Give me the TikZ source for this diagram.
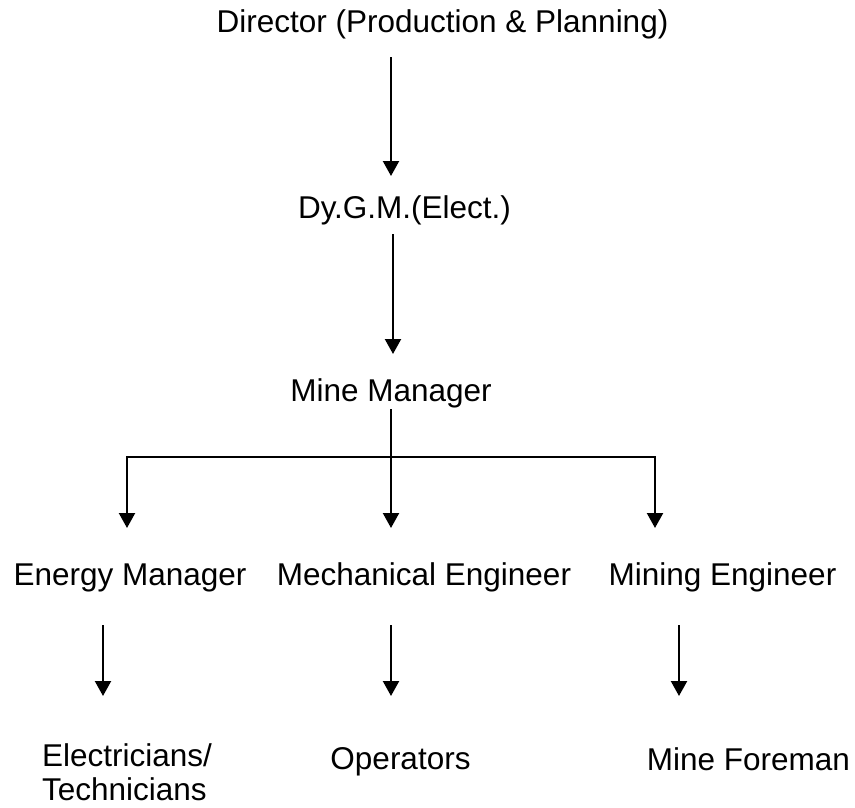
\documentclass[tikz,border=0pt]{standalone}
\usepackage{fontspec}
\setmainfont{Liberation Sans}
\usetikzlibrary{arrows.meta}
\begin{document}
\begin{tikzpicture}[x=1pt,y=-1pt,
  lbl/.style={inner sep=0pt, outer sep=0pt, anchor=base, text height=23pt, text depth=7pt,
    font=\fontsize{31.5}{35}\selectfont},
  ln/.style={line width=2.2pt, black},
  arr/.style={line width=2.2pt, black, -{Triangle[width=16pt,length=15pt]}}]
\fill[white] (0,0) rectangle (855,807);
\useasboundingbox (0,0) rectangle (855,807);

\node[lbl] (dir) at (442.5,32) {Director (Production \& Planning)};
\node[lbl] (dgm) at (404.5,218) {Dy.G.M.(Elect.)};
\node[lbl] (mm)  at (391,401) {Mine Manager};
\node[lbl] (em)  at (130,585) {Energy Manager};
\node[lbl] (me)  at (424,585) {Mechanical Engineer};
\node[lbl] (mi)  at (722.5,585) {Mining Engineer};
\node[inner sep=0pt, outer sep=0pt, anchor=north west, align=left,
      font=\fontsize{31.5}{34}\selectfont] (et) at (42,744) {Electricians/\\Technicians};
\node[lbl] (op)  at (400.5,769) {Operators};
\node[lbl] (mf)  at (748.5,770) {Mine Foreman};

\draw[arr] ([xshift=-51.5pt,yshift=-18pt]dir.south) -- ([xshift=-13.5pt,yshift=19pt]dgm.north);
\draw[arr] ([xshift=-11.5pt,yshift=-9pt]dgm.south) -- ([xshift=2pt,yshift=24pt]mm.north);

\coordinate (bus) at (391,457);
\draw[ln] ([yshift=-1pt]mm.south) -- (bus);
\draw[arr] (bus) -| ([xshift=-3pt,yshift=34pt]em.north);
\draw[arr] (bus) -- ([xshift=-33pt,yshift=34pt]me.north);
\draw[arr] (bus) -| ([xshift=-67.5pt,yshift=34pt]mi.north);

\draw[arr] ([xshift=-27pt,yshift=-33pt]em.south) -- ([xshift=61pt,yshift=48pt]et.north west);
\draw[arr] ([xshift=-33pt,yshift=-33pt]me.south) -- ([xshift=-9.5pt,yshift=50pt]op.north);
\draw[arr] ([xshift=-43.5pt,yshift=-33pt]mi.south) -- ([xshift=-69.5pt,yshift=51pt]mf.north);
\end{tikzpicture}
\end{document}
